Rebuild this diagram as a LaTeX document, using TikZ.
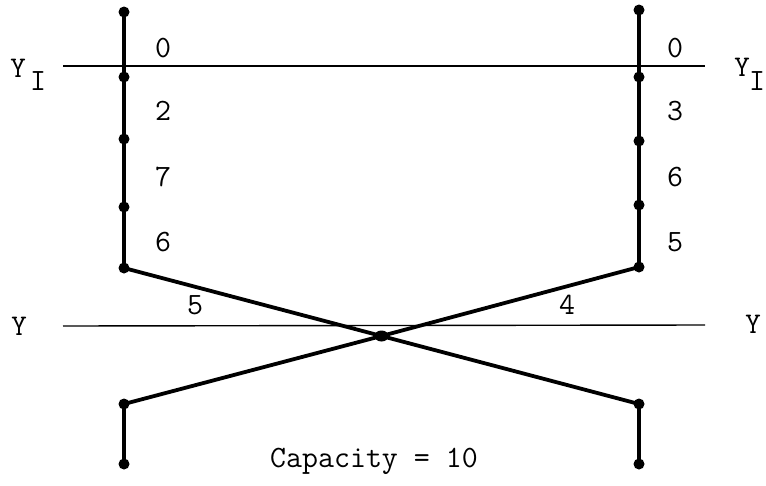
\documentclass[tikz,border=0pt]{standalone}
\usetikzlibrary{shapes.geometric}
\begin{document}
\begin{tikzpicture}[x=1pt,y=-1pt,
  dot/.style={circle,fill=black,inner sep=0pt,minimum size=11pt},
  bigdot/.style={ellipse,fill=black,inner sep=0pt,minimum width=14pt,minimum height=11pt},
  heavy/.style={line width=3.8pt},
  hair/.style={line width=1.4pt},
  lbl/.style={font=\fontsize{31}{32}\selectfont\ttfamily,inner sep=0pt},
  gam/.style={font=\fontsize{30}{32}\selectfont\ttfamily,inner sep=0pt}]
\useasboundingbox (0,0) rectangle (766,485);
% horizontal reference lines
\coordinate (gIl) at (63,66);
\coordinate (gIr) at (705,66);
\coordinate (gl) at (63,326);
\coordinate (gr) at (705,325);
\draw[hair] (gIl) -- (gIr);
\draw[hair] (gl) -- (gr);
% left column
\node[dot] (L0) at (124,12) {};
\node[dot] (L1) at (124,77) {};
\node[dot] (L2) at (124,139) {};
\node[dot] (L3) at (124,207) {};
\node[dot] (L4) at (124,268) {};
\node[dot] (L5) at (124,404) {};
\node[dot] (L6) at (124,464) {};
% right column
\node[dot] (R0) at (639,10) {};
\node[dot] (R1) at (639,77) {};
\node[dot] (R2) at (639,141) {};
\node[dot] (R3) at (639,205) {};
\node[dot] (R4) at (639,267) {};
\node[dot] (R5) at (639,404) {};
\node[dot] (R6) at (639,464) {};
% crossing point
\node[bigdot] (X) at (381.5,336) {};
% connectors
\draw[heavy] (L0.center) -- (L1.center) -- (L2.center) -- (L3.center) -- (L4.center);
\draw[heavy] (R0.center) -- (R1.center) -- (R2.center) -- (R3.center) -- (R4.center);
\draw[heavy] (L4.center) -- (X.center) -- (R5.center) -- (R6.center);
\draw[heavy] (R4.center) -- (X.center) -- (L5.center) -- (L6.center);
% left numbers
\node[lbl] (a0) at (163,48) {0};
\node[lbl] (a1) at (163,111) {2};
\node[lbl] (a2) at (163,177) {7};
\node[lbl] (a3) at (163,242) {6};
% right numbers
\node[lbl] (b0) at (675,48) {0};
\node[lbl] (b1) at (675,111) {3};
\node[lbl] (b2) at (675,177) {6};
\node[lbl] (b3) at (675,242) {5};
% crossing labels
\node[lbl] (c5) at (195,305) {5};
\node[lbl] (c4) at (567,305) {4};
% gamma labels
\node[gam] (gIlY) at (18,68) {Y};
\node[lbl] (gIlI) at (38,81) {I};
\node[gam] (gIrY) at (742,67) {Y};
\node[lbl] (gIrI) at (757,81) {I};
\node[gam] (glY) at (19,326) {Y};
\node[gam] (grY) at (753,324) {Y};
% capacity
\node[lbl] (cap) at (374,461) {Capacity = 10};
\end{tikzpicture}
\end{document}
